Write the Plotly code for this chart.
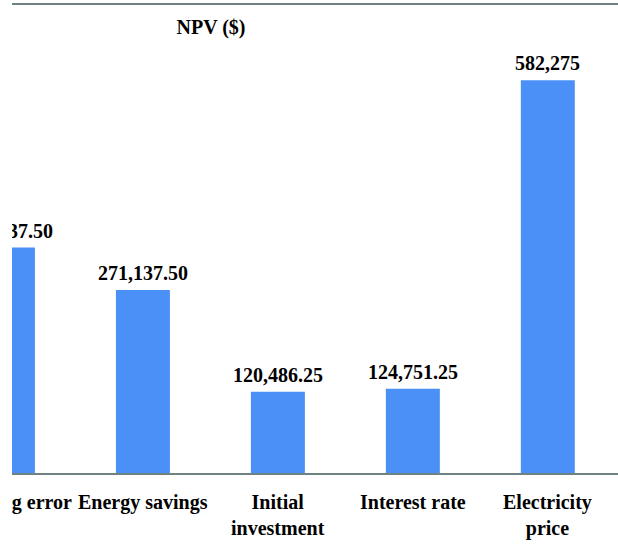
import plotly.graph_objects as go

categories = ["Metering error", "Energy savings", "Initial<br>investment", "Interest rate", "Electricity<br>price"]
npv_values = [334237.50, 271137.50, 120486.25, 124751.25, 582275]
value_labels = ["334,237.50", "271,137.50", "120,486.25", "124,751.25", "582,275"]
title_text = "NPV ($)"

FONT = "Liberation Serif"
BAR_COLOR = "#4a90f6"
LINE_COLOR = "#6f8282"

PAGE_OFFSET_X = 12          # figure starts 12px from the left page edge (clipped there)
W, H = 618 - PAGE_OFFSET_X, 548
ML, MR, MT, MB = 0, 0, 5, 75
X_RANGE = [0.03, 4.52]
PX_PER_UNIT = (W - ML - MR) / (X_RANGE[1] - X_RANGE[0])

xs = list(range(len(categories)))

fig = go.Figure(
    go.Bar(
        x=xs,
        y=npv_values,
        width=0.4,
        marker=dict(color=BAR_COLOR, line=dict(width=0)),
        hoverinfo="skip",
    )
)

annotations = []
for i, (c, v, t) in enumerate(zip(categories, npv_values, value_labels)):
    ax = max(i, X_RANGE[0] + 0.02)
    xshift = (i - ax) * PX_PER_UNIT
    annotations.append(dict(
        x=ax, y=0, xref="x", yref="paper",
        text=f"<b>{c}</b>", showarrow=False,
        xanchor="center", yanchor="top",
        xshift=xshift, yshift=-16,
        font=dict(family=FONT, size=20, color="black"),
    ))
    annotations.append(dict(
        x=ax, y=v, xref="x", yref="y",
        text=f"<b>{t}</b>", showarrow=False,
        xanchor="center", yanchor="bottom",
        xshift=xshift, yshift=4,
        font=dict(family=FONT, size=20, color="black"),
    ))

fig.update_layout(
    width=W,
    height=H,
    margin=dict(l=ML, r=MR, t=MT, b=MB),
    paper_bgcolor="white",
    plot_bgcolor="white",
    showlegend=False,
    title=dict(
        text=f"<b>{title_text}</b>",
        font=dict(family=FONT, size=20, color="black"),
        x=(211 - PAGE_OFFSET_X) / W, xref="container", xanchor="center",
        y=1 - 27 / H, yref="container", yanchor="middle",
    ),
    annotations=annotations,
    xaxis=dict(
        range=X_RANGE,
        showline=True, mirror=True, linecolor=LINE_COLOR, linewidth=1.5,
        showticklabels=False, ticks="", showgrid=False, zeroline=False,
        fixedrange=True,
    ),
    yaxis=dict(
        range=[0, 693700],
        showline=False, showticklabels=False, ticks="", showgrid=False,
        zeroline=False, fixedrange=True,
    ),
)

fig.write_html(
    "out.html",
    config={"displayModeBar": False},
    post_script=(
        "document.body.style.margin='0 0 0 %dpx';"
        "document.body.style.overflow='hidden';" % PAGE_OFFSET_X
    ),
)
